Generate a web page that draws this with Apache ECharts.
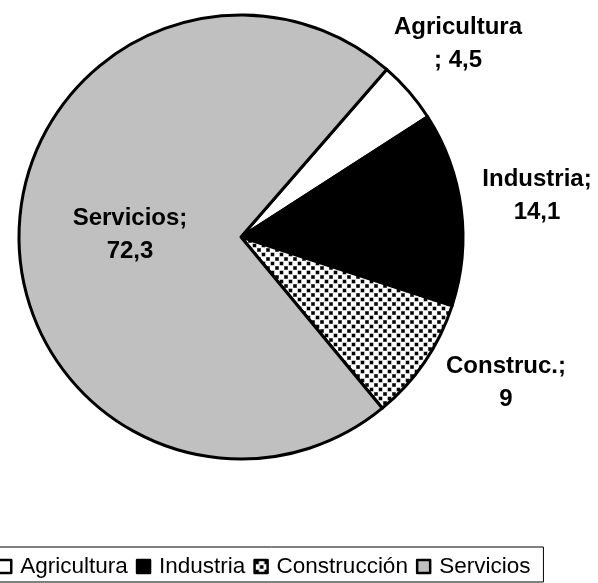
<!DOCTYPE html>
<html>
<head>
<meta charset="utf-8">
<script src="https://cdn.jsdelivr.net/npm/echarts@6/dist/echarts.min.js"></script>
<style>
html,body{margin:0;padding:0;background:#fff;}
#chart{width:598px;height:583px;}
</style>
</head>
<body>
<div id="chart"></div>
<script>
var categories = ['Agricultura', 'Industria', 'Construcción', 'Servicios'];
var labelNames = ['Agricultura\n', 'Industria;\n', 'Construc.;\n', 'Servicios;\n'];
var labelValues = ['; 4,5', '14,1', '9', '72,3'];
var values = [4.5, 14.1, 9, 72.3];

// label anchor positions (layout only)
var labelPos = [[458, 44], [537, 196], [506, 383], [130, 235]];

function makeDots() {
  var c = document.createElement('canvas');
  c.width = 9; c.height = 9;
  var ctx = c.getContext('2d');
  ctx.fillStyle = '#fff';
  ctx.fillRect(0, 0, 9, 9);
  function dot(x, y) {
    ctx.fillStyle = '#777';
    ctx.fillRect(x - 0.5, y - 0.5, 4, 4);
    ctx.fillStyle = '#000';
    ctx.fillRect(x, y, 3, 3);
  }
  dot(1, 1);
  dot(5.5, 5.5);
  dot(5.5 - 9, 5.5);
  dot(5.5, 5.5 - 9);
  return c;
}
var dotPattern = {image: makeDots(), repeat: 'repeat'};
var fills = ['#ffffff', '#000000', dotPattern, '#c0c0c0'];

var chart = echarts.init(document.getElementById('chart'));
var data = categories.map(function (c, i) {
  return {
    name: c,
    value: values[i],
    itemStyle: {color: fills[i]},
    label: {formatter: labelNames[i] + labelValues[i]}
  };
});

chart.setOption({
  animation: false,
  textStyle: {fontFamily: 'Liberation Sans, Arial, sans-serif'},
  legend: {
    data: categories,
    left: -10,
    top: 547,
    orient: 'horizontal',
    padding: [8, 13, 4, 7],
    borderColor: '#000',
    borderWidth: 1,
    itemWidth: 13,
    itemHeight: 13,
    itemGap: 8,
    icon: 'rect',
    itemStyle: {borderColor: '#000', borderWidth: 2.5},
    textStyle: {fontSize: 22.5, color: '#000', fontFamily: 'Liberation Sans, Arial, sans-serif', padding: [0, 0, 0, 4]}
  },
  series: [{
    type: 'pie',
    center: [241, 237],
    radius: 222,
    startAngle: 49,
    clockwise: true,
    data: data,
    itemStyle: {borderColor: '#000', borderWidth: 3},
    emphasis: {disabled: true},
    labelLine: {show: false},
    label: {
      show: true,
      position: 'inside',
      color: '#000',
      fontSize: 24,
      fontWeight: 'bold',
      lineHeight: 33,
      align: 'center',
      fontFamily: 'Liberation Sans, Arial, sans-serif'
    },
    labelLayout: function (p) {
      var pos = labelPos[p.dataIndex];
      return {x: pos[0], y: pos[1], align: 'center', verticalAlign: 'middle'};
    }
  }]
});
</script>
</body>
</html>
